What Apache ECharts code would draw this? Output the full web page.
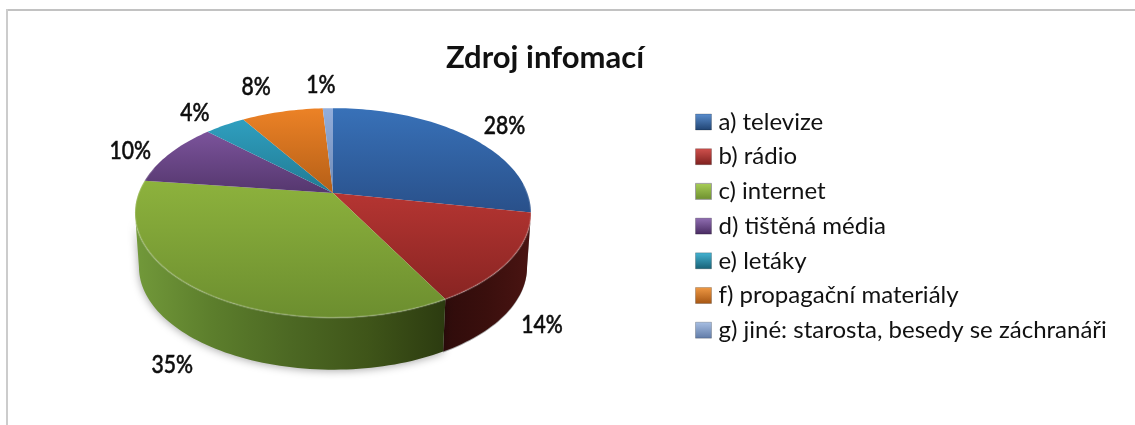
<!DOCTYPE html>
<html><head><meta charset="utf-8">
<style>html,body{margin:0;padding:0;background:#fff}#c{width:1135px;height:425px}</style>
<script src="https://cdn.jsdelivr.net/npm/echarts@6/dist/echarts.min.js"></script>
</head><body><div id="c"></div>
<script>
const categories = ['a) televize','b) rádio','c) internet','d) tištěná média','e) letáky','f) propagační materiály','g) jiné: starosta, besedy se záchranáři'];
const values = [28,14,35,10,4,8,1];
const titleText = 'Zdroj infomací';
const topColors = [['#3871b8','#29508a'],['#b53532','#882422'],['#8db23d','#6c8e2f'],['#7b539b','#55376e'],['#2f9fbf','#217a93'],['#ec8226','#b55f17'],['#93aedb','#6f8ab6']];
const sideColors = [['#1f3c66','#1a3254'],['#2f0c0b','#3a0f0d','#4a1412'],['#72993a','#5c7e2c','#4c6823','#3f5519','#2c3b10'],['#3f2852','#3f2852'],['#185b6e','#185b6e'],['#87470f','#87470f'],['#52678a','#52678a']];
const legendColors = [['#5b8fd0','#1f4270'],['#d2524e','#7c1f1d'],['#a9cf57','#6c8e2f'],['#9270b4','#46295f'],['#45b5d4','#175f74'],['#f09a45','#a45412'],['#a9c0e4','#5f7aa6']];
const labelNudge = [[38,-9],[32,65],[-31,73],[-40,-2],[-30,-12],[-26,-24],[-7,-23]];

// projective disc
const APEX=[333,193], K=0.19, A=101, C=194.4, DEPTH=54.5, BASE=0.98;
function proj(deg,bottom){
  const t=deg*Math.PI/180,u=Math.sin(t),v=Math.cos(t),w=1+K*v;
  const x=C*u/w,y=-A*v/w;
  return bottom?[APEX[0]+x*BASE,APEX[1]+y*BASE+DEPTH]:[APEX[0]+x,APEX[1]+y];
}
function arc(a,b,bottom){const n=Math.max(2,Math.ceil(Math.abs(b-a)/1.5)),p=[];for(let i=0;i<=n;i++)p.push(proj(a+(b-a)*i/n,bottom));return p;}
function grad(cols,h){return {type:'linear',x:0,y:0,x2:h?1:0,y2:h?0:1,colorStops:cols.map((c,i)=>({offset:i/(cols.length-1),color:c}))};}
const total=values.reduce((s,v)=>s+v,0);
const FONT='Lato, Carlito, Calibri, sans-serif';
let run=0;
const series=categories.map((name,i)=>{
  const start=run/total*360; run+=values[i]; const end=run/total*360;
  return {
    type:'custom',name,coordinateSystem:'none',silent:true,animation:false,
    data:[[values[i]]],
    itemStyle:{color:topColors[i][0]},
    renderItem(){
      const kids=[];
      const a=Math.max(start,101),b=Math.min(end,259);
      if(b>a){
        const pts=arc(a,b,false).concat(arc(b,a,true));
        kids.push({type:'polygon',shape:{points:pts},style:{fill:grad(sideColors[i],true),shadowBlur:i===2?8:0,shadowColor:'rgba(0,0,0,.35)',shadowOffsetY:1}});
      }
      kids.push({type:'polygon',shape:{points:[APEX].concat(arc(start,end,false))},style:{fill:grad(topColors[i],false)}});
      const fa=Math.max(start,85),fb=Math.min(end,285);
      if(fb>fa) kids.push({type:'polyline',shape:{points:arc(fa,fb,false)},style:{fill:null,stroke:'rgba(255,255,255,.18)',lineWidth:2}});
      const rim=proj((start+end)/2,false);
      kids.push({type:'text',x:rim[0]+labelNudge[i][0],y:rim[1]+labelNudge[i][1],scaleX:0.88,
        style:{text:values[i]+'%',align:'center',verticalAlign:'middle',fontFamily:FONT,fontSize:24,fontWeight:500,fill:'#0d0d0d',stroke:'#0d0d0d',lineWidth:0.5},z2:10});
      return {type:'group',children:kids};
    }
  };
});
const chart=echarts.init(document.getElementById('c'),null,{renderer:'canvas'});
chart.setOption({
  backgroundColor:'#fff',animation:false,
  title:{text:titleText,left:540,top:37,textAlign:'center',textStyle:{fontFamily:FONT,fontSize:31,fontWeight:'bold',color:'#111'}},
  legend:{orient:'vertical',left:690,top:105,itemWidth:16,itemHeight:16,itemGap:10.7,selectedMode:false,icon:'rect',
    data:categories.map((name,i)=>({name,itemStyle:{color:grad(legendColors[i],false),borderColor:i===2?'#a0a0a0':'rgba(0,0,0,.2)',borderWidth:1}})),
    textStyle:{fontFamily:FONT,fontSize:24,color:'#111',padding:[0,0,0,2],height:16,lineHeight:16}},
  graphic:[
    {type:'rect',silent:true,shape:{x:6,y:9,width:1129,height:2},style:{fill:'#c2c2c2'}},
    {type:'rect',silent:true,shape:{x:6,y:9,width:2,height:416},style:{fill:'#cccccc'}}
  ],
  series
});
</script></body></html>
